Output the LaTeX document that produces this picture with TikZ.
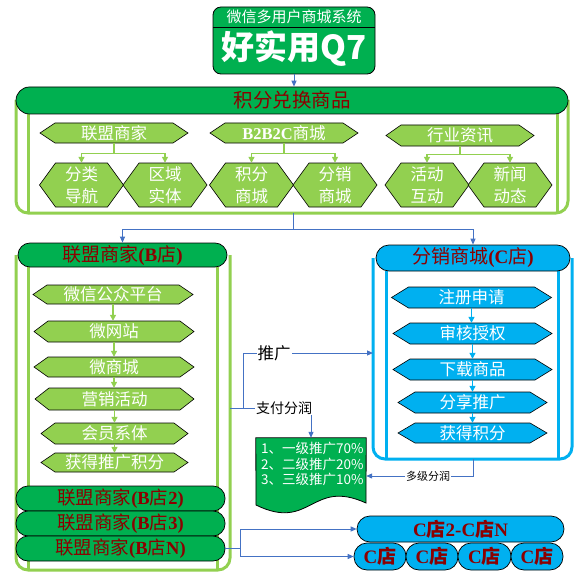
\documentclass[tikz,border=0pt]{standalone}
\usepackage{fontspec}
\setmainfont{Liberation Serif}
\newfontfamily\cjk{Noto Sans CJK SC}
\usetikzlibrary{arrows.meta}
\definecolor{dgreen}{HTML}{00B050}
\definecolor{lgreen}{HTML}{92D050}
\definecolor{cyanb}{HTML}{00B0F0}
\definecolor{lineblue}{HTML}{4472C4}
\definecolor{dred}{HTML}{8C0000}
\newcommand\zh[1]{{\cjk #1}}
\newcommand\zhb[1]{{\cjk\bfseries #1}}
\newcommand\hexa[8]{%
  \draw[#1] ({#3-#5/2},#4) -- ({#3-#5/2+#7},{#4-#6/2}) -- ({#3+#5/2-#7},{#4-#6/2}) -- ({#3+#5/2},#4) -- ({#3+#5/2-#7},{#4+#6/2}) -- ({#3-#5/2+#7},{#4+#6/2}) -- cycle;
  \node[hextext, minimum width=#5, minimum height=#6] (#2) at (#3,#4) {#8};
}
\tikzset{
 conn/.style={draw=lineblue, line width=1pt, -{Triangle[length=6pt,width=5pt]}},
 gconn/.style={draw=lgreen, line width=1.2pt, -{Triangle[length=6pt,width=6pt]}},
 cconn/.style={draw=cyanb, line width=1.2pt, -{Triangle[length=6pt,width=6pt]}},
 gframe/.style={draw=lgreen, line width=3pt},
 cframe/.style={draw=cyanb, line width=3pt},
 ghex/.style={fill=lgreen, draw=black, line width=0.6pt},
 chex/.style={fill=cyanb, draw=black, line width=0.6pt},
 hextext/.style={text=white, inner sep=0pt, align=center, font=\cjk\fontsize{16.5}{22}\selectfont},
 pill/.style={draw=black, line width=0.7pt, rounded corners=12pt, inner sep=0pt, text=dred, font=\fontsize{19}{19}\selectfont},
 gpill/.style={pill, fill=dgreen},
 cpill/.style={pill, fill=cyanb},
 lbl/.style={fill=white, inner sep=1pt, text=black, font=\cjk\fontsize{16.5}{16.5}\selectfont},
 lblb/.style={fill=white, inner sep=1pt, text=black, font=\cjk\fontsize{14}{14}\selectfont},
 lblc/.style={fill=white, inner sep=1pt, text=black, font=\cjk\fontsize{11}{11}\selectfont},
}
\begin{document}
\begin{tikzpicture}[x=1pt,y=-1pt]
\fill[white] (0,0) rectangle (587,578);
\useasboundingbox (0,0) rectangle (587,578);

% title
\node[draw=black, fill=dgreen, rounded corners=8pt, minimum width=162, minimum height=67, line width=0.8pt, inner sep=0pt] (title) at (294,40.5) {};
\draw[line width=0.8pt] (213,27) -- (375,27);
\node[text=white, font=\cjk\fontsize{15}{15}\selectfont] (t1) at (294,17) {微信多用户商城系统};
\node[text=white, font=\cjk\bfseries\fontsize{33}{33}\selectfont] (t2) at (294,49) {好实用Q7};

% top frame
\draw[gframe, rounded corners=12pt] (16,100) -- (16,213) -- (568,213) -- (568,100);
\draw[gframe] (28,114) -- (28,213);
\draw[gframe] (557,114) -- (557,213);
\node[gpill, minimum width=552, minimum height=27, rounded corners=13.5pt, font=\cjk\fontsize{19.5}{19.5}\selectfont] (tophead) at (292,100.5) {积分兑换商品};
\draw[conn] (title.south) -- (title.south |- tophead.north);

\hexa{ghex}{h1}{114}{133}{148}{20}{15}{联盟商家}
\hexa{ghex}{h2}{284}{133}{148}{20}{15}{{\rmfamily\bfseries B2B2C}商城}
\hexa{ghex}{h3}{460}{135.5}{148}{21}{15}{行业资讯}
\hexa{ghex}{h11}{81.5}{185}{84}{44}{16}{分类\\导航}
\hexa{ghex}{h12}{165}{185}{84}{44}{16}{区域\\实体}
\hexa{ghex}{h21}{251.5}{185}{84}{44}{16}{积分\\商城}
\hexa{ghex}{h22}{335}{185}{84}{44}{16}{分销\\商城}
\hexa{ghex}{h31}{427}{185}{84}{44}{16}{活动\\互动}
\hexa{ghex}{h32}{510}{185}{84}{44}{16}{新闻\\动态}
\draw[gconn] (h1.south) -- ++(0,10) -| (h11.north);
\draw[gconn] (h1.south) -- ++(0,10) -| (h12.north);
\draw[gconn] (h2.south) -- ++(0,10) -| (h21.north);
\draw[gconn] (h2.south) -- ++(0,10) -| (h22.north);
\draw[gconn] (h3.south) -- ++(0,8) -| (h31.north);
\draw[gconn] (h3.south) -- ++(0,8) -| (h32.north);

% B block
\draw[gframe, rounded corners=12pt] (16,255) -- (16,570) -- (230,570) -- (230,255);
\draw[gframe] (28,267) -- (28,570);
\draw[gframe] (217,267) -- (217,570);
\node[gpill, minimum width=209, minimum height=24] (bhead) at (122.5,255) {\zh{联盟商家}\textbf{(B}\zh{店}\textbf{)}};

\hexa{ghex}{b1}{113}{294.5}{160}{19}{14}{微信公众平台}
\hexa{ghex}{b2}{114}{331.5}{160}{21}{14}{微网站}
\hexa{ghex}{b3}{114}{367}{160}{20}{14}{微商城}
\hexa{ghex}{b4}{114.5}{399}{159}{22}{14}{营销活动}
\hexa{ghex}{b5}{114.5}{433.5}{147}{21}{14}{会员系体}
\hexa{ghex}{b6}{114.5}{462.5}{147}{19}{14}{获得推广积分}
\draw[gconn] (b1.south) -- (b1.south |- b2.north);
\draw[gconn] (b2.south) -- (b2.south |- b3.north);
\draw[gconn] (b3.south) -- (b3.south |- b4.north);
\draw[gconn] (b4.south) -- (b4.south |- b5.north);
\draw[gconn] (b5.south) -- (b5.south |- b6.north);

\node[gpill, minimum width=209, minimum height=25, font=\fontsize{18.5}{18.5}\selectfont] (bb2) at (120.5,498.5) {\zh{联盟商家}\textbf{(B}\zh{店}\textbf{2)}};
\node[gpill, minimum width=209, minimum height=25, font=\fontsize{18.5}{18.5}\selectfont] (bb3) at (120.5,523.5) {\zh{联盟商家}\textbf{(B}\zh{店}\textbf{3)}};
\node[gpill, minimum width=209, minimum height=25, font=\fontsize{18.5}{18.5}\selectfont] (bbn) at (120.5,548.5) {\zh{联盟商家}\textbf{(B}\zh{店}\textbf{N)}};

% C block
\draw[cframe, rounded corners=12pt] (373,258) -- (373,459) -- (572,459) -- (572,258);
\draw[cframe] (386,271) -- (386,459);
\draw[cframe] (558,271) -- (558,459);
\node[cpill, minimum width=194, minimum height=26, rounded corners=13pt] (chead) at (473,258) {\zh{分销商城}\textbf{(C}\zh{店}\textbf{)}};

\hexa{chex}{c1}{471.5}{297.5}{160}{21}{17}{注册申请}
\hexa{chex}{c2}{472.5}{333.5}{159}{21}{17}{审核授权}
\hexa{chex}{c3}{472.5}{369.5}{159}{21}{17}{下载商品}
\hexa{chex}{c4}{472.5}{402.5}{149}{21}{17}{分享推广}
\hexa{chex}{c5}{472.5}{433}{149}{20}{17}{获得积分}
\draw[cconn] (c1.south) -- (c1.south |- c2.north);
\draw[cconn] (c2.south) -- (c2.south |- c3.north);
\draw[cconn] (c3.south) -- (c3.south |- c4.north);
\draw[cconn] (c4.south) -- (c4.south |- c5.north);

% connectors from top frame
\coordinate (tfb) at (293,213);
\draw[conn] (tfb) -- ++(0,16) -| (bhead.north);
\draw[conn] (tfb) -- ++(0,16) -| (chead.north);

% document
\node[minimum width=110, minimum height=70, inner sep=0pt] (doc) at (311,473) {};
\draw[fill=dgreen, draw=black, line width=0.8pt] (doc.north west) -- (doc.north east) -- (366,503) .. controls (311,478) and (311,532) .. (256,505) -- cycle;
\node[anchor=north west, text=white, align=left, inner sep=0pt, font=\cjk\fontsize{13.5}{15.5}\selectfont] (doctext) at (261,442) {1、一级推广70\%\\2、二级推广20\%\\3、三级推广10\%};

% middle connectors
\coordinate (bR) at (230,408);
\coordinate (bk) at (243,408);
\coordinate (cL) at (373,353);
\draw[conn] (bR) -- (bk) |- node[lbl, pos=0.62]{推广} (cL);
\draw[conn] (bR) -- node[lblb, pos=0.667]{支付分润} (doc.north |- bR) -- (doc.north);
\coordinate (cB) at (473,459);
\coordinate (cm) at (473,476);
\draw[conn] (cB) -- (cm) -- node[lblc, pos=0.42]{多级分润} (doc.east |- cm);

% bottom right
\node[cpill, minimum width=207, minimum height=26, rounded corners=13pt] (c2n) at (460.5,529) {\textbf{C}\zhb{店}\textbf{2-C}\zhb{店}\textbf{N}};
\node[cpill, minimum width=52, minimum height=27, rounded corners=13pt] (cs1) at (380,556.5) {\textbf{C}\zhb{店}};
\node[cpill, minimum width=52, minimum height=27, rounded corners=13pt] (cs2) at (432,556.5) {\textbf{C}\zhb{店}};
\node[cpill, minimum width=53, minimum height=27, rounded corners=13pt] (cs3) at (484.5,556.5) {\textbf{C}\zhb{店}};
\node[cpill, minimum width=52, minimum height=27, rounded corners=13pt] (cs4) at (537,556.5) {\textbf{C}\zhb{店}};
\coordinate (bj) at (240,548.5);
\draw[conn] (bbn.east) -- (bj) |- (c2n.west);
\draw[conn] (bbn.east) -- (bj) |- (cs1.west);
\end{tikzpicture}
\end{document}
